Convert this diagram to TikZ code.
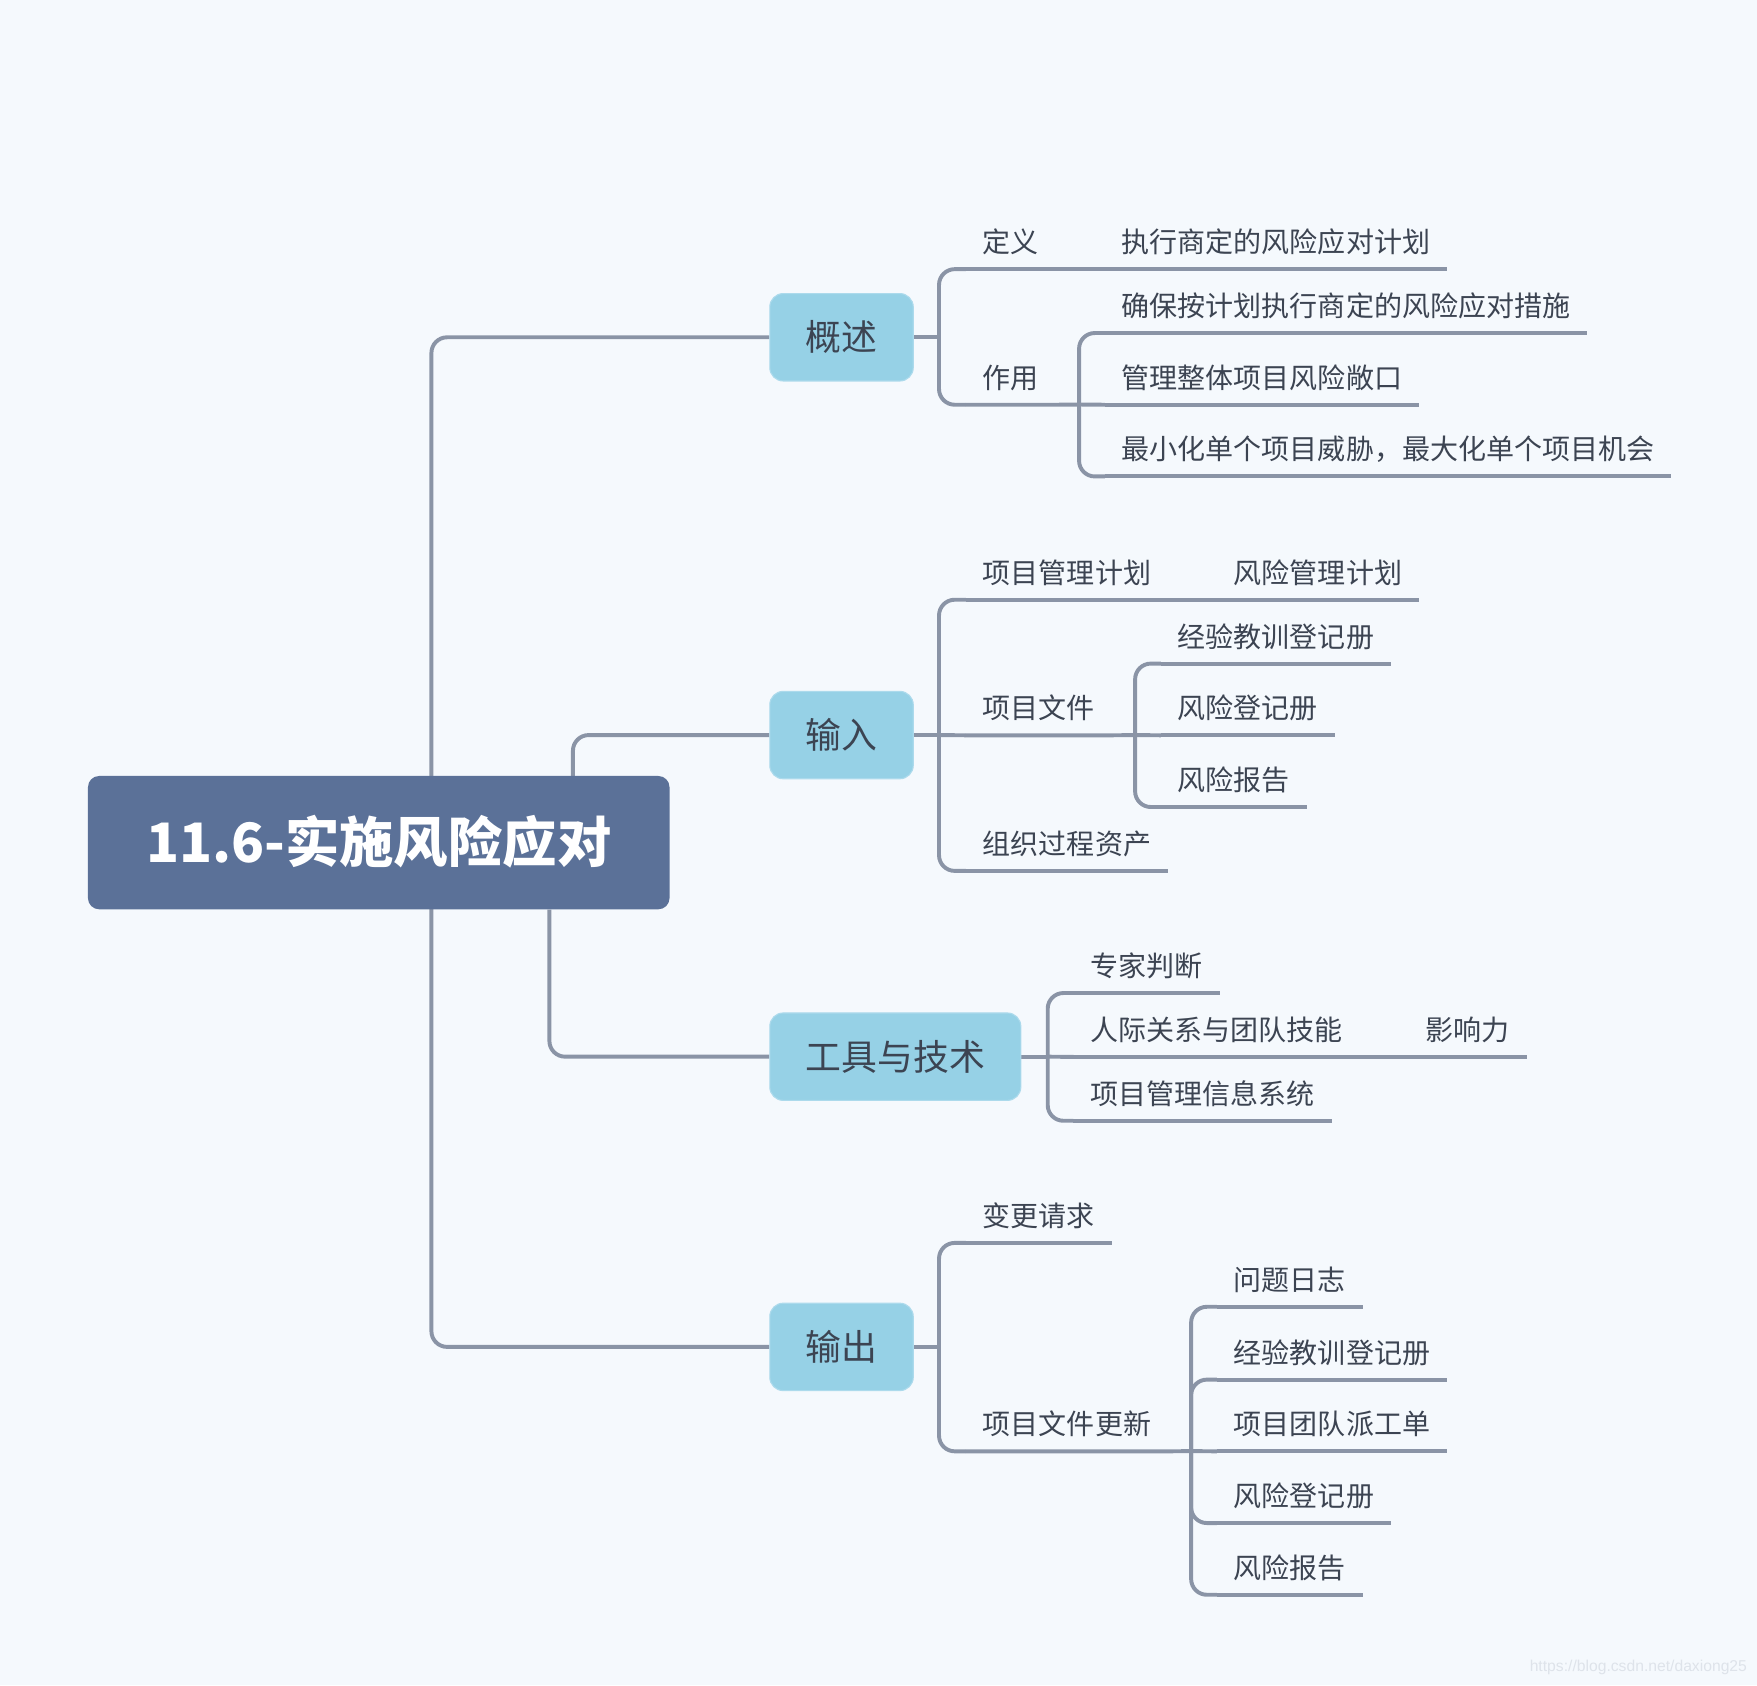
\documentclass[tikz,border=0pt]{standalone}
\usepackage{fontspec}
\newfontfamily\cjk{Noto Sans CJK SC}
\newfontfamily\wmfont{Liberation Sans}
\usetikzlibrary{calc}
\definecolor{bgc}{RGB}{245,249,253}
\definecolor{lc}{RGB}{138,148,166}
\definecolor{rootc}{RGB}{91,113,152}
\definecolor{mainc}{RGB}{150,209,230}
\definecolor{mainbd}{RGB}{172,218,236}
\definecolor{txt}{RGB}{60,68,82}
\definecolor{wmc}{RGB}{222,227,234}
\pgfdeclarelayer{back}
\pgfdeclarelayer{lines}
\pgfsetlayers{back,lines,main}
\begin{document}
\begin{tikzpicture}[x=1pt,y=-1pt,
  conn/.style={draw=lc,line width=3.5pt},
  rc/.style={conn,rounded corners=14pt},
  tp/.style={anchor=west,inner xsep=15pt,inner ysep=11.5pt,text height=22pt,text depth=3pt,
    font=\cjk\fontsize{25}{25}\selectfont,text=txt},
  mainbox/.style={fill=mainc,draw=mainbd,line width=1pt,rounded corners=12pt,inner xsep=32pt,
    minimum height=78pt,text height=28pt,text depth=4pt,font=\cjk\fontsize{32}{32}\selectfont,text=txt},
  rootbox/.style={fill=rootc,rounded corners=10pt,minimum width=519pt,minimum height=119pt,
    text height=42pt,text depth=6pt,font=\cjk\bfseries\fontsize{48.5}{48.5}\selectfont,text=white}
]
\begin{pgfonlayer}{back}
\fill[bgc] (0,0) rectangle (1568,1504);
\end{pgfonlayer}
\useasboundingbox (0,0) rectangle (1568,1504);

% root and main topics
\node[rootbox] (root) at (338,752) {11.6-实施风险应对};
\node[mainbox] (gs) at (751,301) {概述};
\node[mainbox] (sr) at (751,656) {输入};
\node[mainbox] (gj) at (799,943) {工具与技术};
\node[mainbox] (sc) at (751,1202) {输出};

% overview
\node[tp] (dy) at (862,216) {定义};
\node[tp] (dy1) at (986,216) {执行商定的风险应对计划};
\node[tp] (zy) at (862,337) {作用};
\node[tp] (zy1) at (986,273) {确保按计划执行商定的风险应对措施};
\node[tp] (zy2) at (986,337) {管理整体项目风险敞口};
\node[tp] (zy3) at (986,401) {最小化单个项目威胁，最大化单个项目机会};

% input
\node[tp] (xm) at (862,511) {项目管理计划};
\node[tp] (xm1) at (1086,511) {风险管理计划};
\node[tp] (xw) at (862,632) {项目文件};
\node[tp] (xw1) at (1036,568) {经验教训登记册};
\node[tp] (xw2) at (1036,632) {风险登记册};
\node[tp] (xw3) at (1036,696) {风险报告};
\node[tp] (zz) at (862,753) {组织过程资产};

% tools
\node[tp] (zj) at (958,862) {专家判断};
\node[tp] (rj) at (958,919) {人际关系与团队技能};
\node[tp] (rj1) at (1257,919) {影响力};
\node[tp] (xx) at (958,976) {项目管理信息系统};

% output
\node[tp] (bg) at (862,1085) {变更请求};
\node[tp] (wj) at (862,1271) {项目文件更新};
\node[tp] (wj1) at (1086,1142) {问题日志};
\node[tp] (wj2) at (1086,1207) {经验教训登记册};
\node[tp] (wj3) at (1086,1271) {项目团队派工单};
\node[tp] (wj4) at (1086,1335) {风险登记册};
\node[tp] (wj5) at (1086,1399) {风险报告};

% watermark
\node[anchor=west,inner sep=0,font=\wmfont\fontsize{14}{14}\selectfont,text=wmc] (wm) at (1365,1488) {https://blog.csdn.net/daxiong25};

% junctions
\coordinate (t1) at (385,752);
\coordinate (j1) at (838,301);
\coordinate (j2) at (963,361);
\coordinate (j3) at (838,656);
\coordinate (j4) at (1013,656);
\coordinate (j5) at (935,943);
\coordinate (j6) at (838,1202);
\coordinate (j7) at (1063,1295);

\begin{pgfonlayer}{lines}
% trunk
\draw[rc] (gs.west) -| (t1) |- (sc.west);
\draw[rc] ([xshift=433pt]root.north west) |- (sr.west);
\draw[rc] ([xshift=412pt]root.south west) |- (gj.west);

% overview
\draw[conn] (gs.east) -- (j1);
\draw[rc] (dy.south west) -| (j1) |- (zy.south west);
\draw[conn] (dy.south west) -- (dy.south east) -- (dy1.south west) -- (dy1.south east);
\draw[conn] (zy.south west) -- (zy.south east) -- (j2);
\draw[rc] (zy1.south west) -| (j2) |- (zy3.south west);
\draw[conn] (j2) -- (zy2.south west);
\draw[conn] (zy1.south west) -- (zy1.south east);
\draw[conn] (zy2.south west) -- (zy2.south east);
\draw[conn] (zy3.south west) -- (zy3.south east);

% input
\draw[conn] (sr.east) -- (j3);
\draw[rc] (xm.south west) -| (j3) |- (zz.south west);
\draw[conn] (j3) -- (xw.south west);
\draw[conn] (xm.south west) -- (xm.south east) -- (xm1.south west) -- (xm1.south east);
\draw[conn] (xw.south west) -- (xw.south east) -- (j4);
\draw[rc] (xw1.south west) -| (j4) |- (xw3.south west);
\draw[conn] (j4) -- (xw2.south west);
\draw[conn] (xw1.south west) -- (xw1.south east);
\draw[conn] (xw2.south west) -- (xw2.south east);
\draw[conn] (xw3.south west) -- (xw3.south east);
\draw[conn] (zz.south west) -- (zz.south east);

% tools
\draw[conn] (gj.east) -- (j5);
\draw[rc] (zj.south west) -| (j5) |- (xx.south west);
\draw[conn] (j5) -- (rj.south west);
\draw[conn] (zj.south west) -- (zj.south east);
\draw[conn] (rj.south west) -- (rj.south east) -- (rj1.south west) -- (rj1.south east);
\draw[conn] (xx.south west) -- (xx.south east);

% output
\draw[conn] (sc.east) -- (j6);
\draw[rc] (bg.south west) -| (j6) |- (wj.south west);
\draw[conn] (bg.south west) -- (bg.south east);
\draw[conn] (wj.south west) -- (wj.south east) -- (j7);
\draw[rc] (wj1.south west) -| (j7) |- (wj5.south west);
\draw[rc] (wj2.south west) -| (j7);
\draw[rc] (wj4.south west) -| (j7);
\draw[conn] (j7) -- (wj3.south west);
\draw[conn] (wj1.south west) -- (wj1.south east);
\draw[conn] (wj2.south west) -- (wj2.south east);
\draw[conn] (wj3.south west) -- (wj3.south east);
\draw[conn] (wj4.south west) -- (wj4.south east);
\draw[conn] (wj5.south west) -- (wj5.south east);
\end{pgfonlayer}
\end{tikzpicture}
\end{document}
